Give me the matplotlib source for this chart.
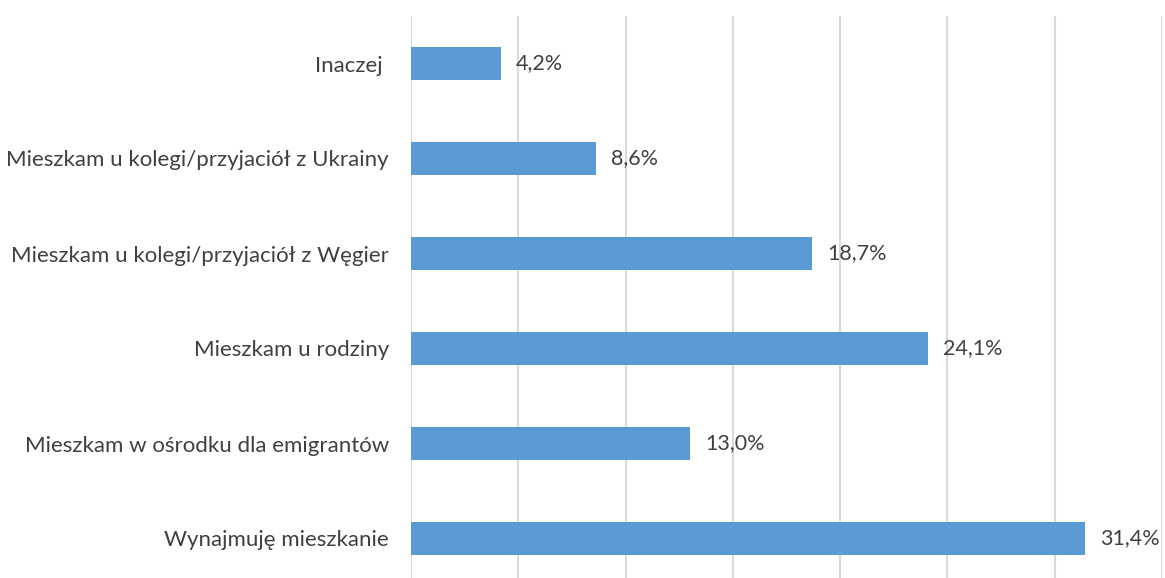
import matplotlib.pyplot as plt

categories = [
    "Wynajmuję mieszkanie",
    "Mieszkam w ośrodku dla emigrantów",
    "Mieszkam u rodziny",
    "Mieszkam u kolegi/przyjaciół z Węgier",
    "Mieszkam u kolegi/przyjaciół z Ukrainy",
    "Inaczej ",
]
shares = [31.4, 13.0, 24.1, 18.7, 8.6, 4.2]
value_labels = ["31,4%", "13,0%", "24,1%", "18,7%", "8,6%", "4,2%"]

BAR_COLOR = "#5B9BD5"
GRID_COLOR = "#D9D9D9"
TEXT_COLOR = "#404040"

plt.rcParams["font.family"] = ["Lato", "DejaVu Sans"]

fig = plt.figure(figsize=(11.65, 5.78), dpi=100)
ax = fig.add_axes([411 / 1165, -8 / 578, (1162 - 411) / 1165, 570 / 578])

y = range(len(categories))
ax.barh(y, shares, height=0.35, color=BAR_COLOR, zorder=2)

for i, (v, txt) in enumerate(zip(shares, value_labels)):
    ax.text(v + 0.7, i, txt, va="center", ha="left", fontsize=15.5, color=TEXT_COLOR)

ax.set_xlim(0, 35)
ax.set_ylim(-0.5, len(categories) - 0.5)
ax.set_xticks(range(0, 36, 5))
ax.set_xticklabels([])
ax.xaxis.grid(True, color=GRID_COLOR, linewidth=1.5, zorder=0)
ax.tick_params(axis="x", length=0)
ax.set_yticks(list(y))
ax.set_yticklabels(categories, fontsize=16, color=TEXT_COLOR)
ax.tick_params(axis="y", length=0, pad=16)

for side in ["top", "right", "bottom", "left"]:
    ax.spines[side].set_visible(False)

fig.savefig("out.png", dpi=100)
